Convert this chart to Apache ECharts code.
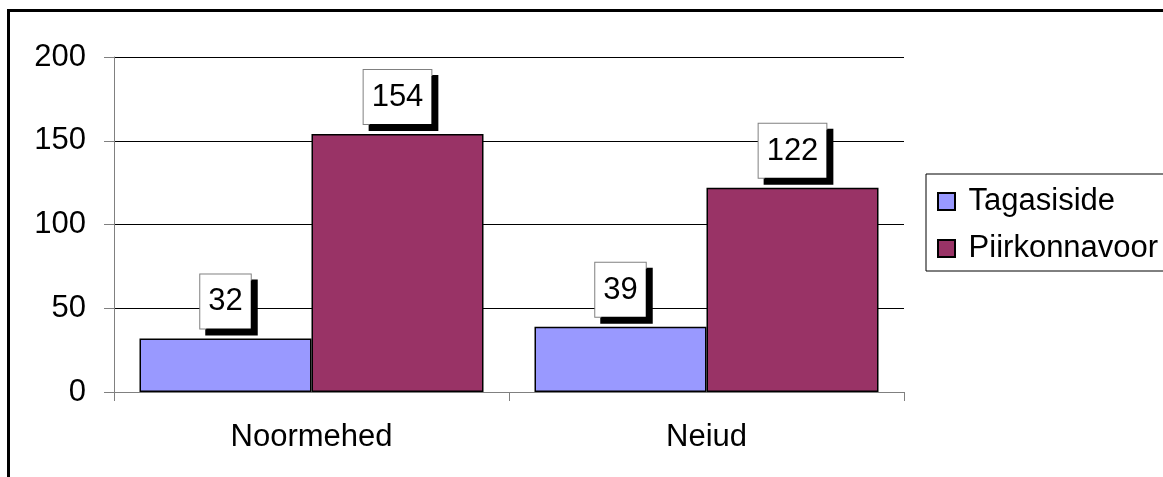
<!DOCTYPE html>
<html lang="et">
<head>
	<meta charset="UTF-8">
	<script src="https://cdn.jsdelivr.net/npm/echarts@6/dist/echarts.min.js"></script>
	<title>Tagasiside ja Piirkonnavoor</title>
	<style>
		html, body { margin: 0; padding: 0; background: #fff; }
	</style>
</head>
<body>
	<div id="main" style="width: 1163px;height:477px;"></div>

	<script>
		// data
		var categories = ['Noormehed', 'Neiud'];
		var tagasiside = [32, 39];
		var piirkonnavoor = [154, 122];
		var seriesNames = ['Tagasiside', 'Piirkonnavoor'];

		var font = "'Liberation Sans', Arial, sans-serif";

		var labelBox = {
			show: true,
			position: 'top',
			distance: 10,
			fontSize: 31,
			fontFamily: font,
			color: '#000',
			backgroundColor: '#fff',
			borderColor: '#808080',
			borderWidth: 1,
			padding: [12, 8, 11, 8],
			shadowColor: '#000',
			shadowBlur: 0,
			shadowOffsetX: 6,
			shadowOffsetY: 6
		};

		var chart = echarts.init(document.getElementById('main'));

		chart.setOption({
			animation: false,
			backgroundColor: '#fff',
			textStyle: { fontFamily: font },
			// outer frame (only top/left edges visible)
			graphic: [{
				type: 'rect',
				shape: { x: 8.5, y: 10.5, width: 1300, height: 600 },
				style: { fill: 'none', stroke: '#000', lineWidth: 3 },
				silent: true
			}],
			grid: {
				left: 114,
				right: 259,
				top: 57,
				bottom: 85
			},
			legend: {
				orient: 'vertical',
				left: 926,
				top: 174,
				data: seriesNames,
				icon: 'rect',
				itemWidth: 17,
				itemHeight: 17,
				itemGap: 16,
				borderColor: '#000',
				borderWidth: 1,
				padding: [12, 60, 7, 11],
				formatter: ' {name}',
				textStyle: { fontSize: 31, color: '#000', fontFamily: font }
			},
			xAxis: {
				type: 'category',
				data: categories,
				axisLine: { lineStyle: { color: '#808080', width: 1 } },
				axisTick: { show: true, length: 9, lineStyle: { color: '#808080' } },
				axisLabel: { fontSize: 31, color: '#000', margin: 30, fontFamily: font },
				z: 5
			},
			yAxis: {
				type: 'value',
				min: 0,
				max: 200,
				interval: 50,
				axisLine: { show: true, lineStyle: { color: '#808080', width: 1 } },
				axisTick: { show: true, length: 10, lineStyle: { color: '#808080' } },
				axisLabel: { fontSize: 31, color: '#000', margin: 28, fontFamily: font },
				splitLine: { show: true, lineStyle: { color: '#000', width: 1 } }
			},
			series: [
				{
					name: seriesNames[0],
					type: 'bar',
					data: tagasiside,
					barWidth: 172,
					barGap: 0,
					itemStyle: { color: '#9999FF', borderColor: '#000', borderWidth: 1.5 },
					label: labelBox
				},
				{
					name: seriesNames[1],
					type: 'bar',
					data: piirkonnavoor,
					barWidth: 172,
					barGap: 0,
					itemStyle: { color: '#993366', borderColor: '#000', borderWidth: 1.5 },
					label: labelBox
				}
			]
		});
	</script>
</body>
</html>
